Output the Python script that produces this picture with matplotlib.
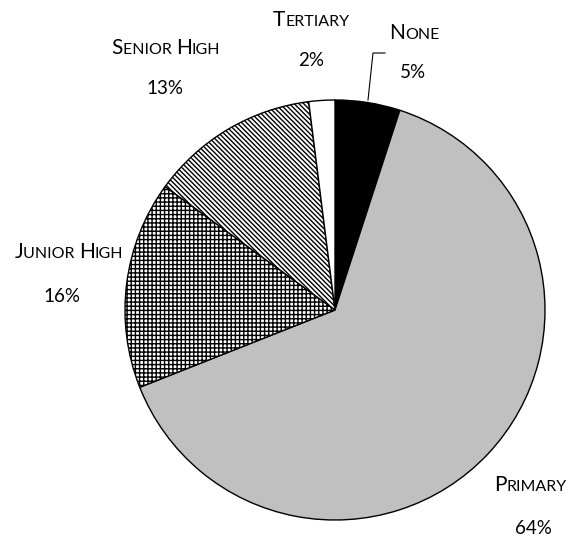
import matplotlib
matplotlib.use("Agg")
import matplotlib.pyplot as plt
from matplotlib.offsetbox import TextArea, HPacker, AnnotationBbox

plt.rcParams['font.family'] = ['Lato', 'DejaVu Sans']
plt.rcParams['hatch.linewidth'] = 1.0

# data
labels = ["None", "Primary", "Junior High", "Senior High", "Tertiary"]
shares = [5, 64, 16, 13, 2]
colors = ["black", "#c0c0c0", "white", "white", "white"]
hatches = ["", "", "++++", "\\" * 7, ""]

# label spots in pixel coords (x, y from top): name, then percent
name_pos = {
    "None": (414, 33),
    "Primary": (530, 485),
    "Junior High": (69, 252),
    "Senior High": (166, 48),
    "Tertiary": (311, 20),
}
pct_pos = {
    "None": (413, 72),
    "Primary": (533, 528),
    "Junior High": (62, 297),
    "Senior High": (165, 88),
    "Tertiary": (311, 60),
}

W, H = 568, 537
fig = plt.figure(figsize=(W / 100, H / 100), dpi=100)
ax = fig.add_axes([0, 0, 1, 1])

wedges, _ = ax.pie(shares, colors=colors, startangle=90, counterclock=False,
                   center=(335, H - 310), radius=210, frame=True,
                   wedgeprops=dict(edgecolor="black", linewidth=1.0))
for w, h in zip(wedges, hatches):
    if h:
        w.set_hatch(h)
ax.set_xlim(0, W)
ax.set_ylim(0, H)
ax.set_aspect("equal")
ax.axis("off")


def smallcaps(text, xy, big=15, small=11.5):
    parts = []
    words = text.split()
    for i, word in enumerate(words):
        rest = word[1:].upper()
        if i < len(words) - 1:
            rest += " "
        parts.append(TextArea(word[0], textprops=dict(fontsize=big, color="black")))
        parts.append(TextArea(rest, textprops=dict(fontsize=small, color="black")))
    box = HPacker(children=parts, align="baseline", pad=0, sep=0)
    ab = AnnotationBbox(box, xy, frameon=False, box_alignment=(0.5, 0.5),
                        xycoords="data", pad=0)
    ax.add_artist(ab)


for name, share in zip(labels, shares):
    x, y = name_pos[name]
    smallcaps(name, (x, H - y))
    px, py = pct_pos[name]
    ax.text(px, H - py, f"{share}%", ha="center", va="center", fontsize=13.5)

# leader line for None
ax.plot([385, 373, 368], [H - 53, H - 53, H - 100], color="black", lw=0.8)

fig.savefig("out.png", dpi=100)
